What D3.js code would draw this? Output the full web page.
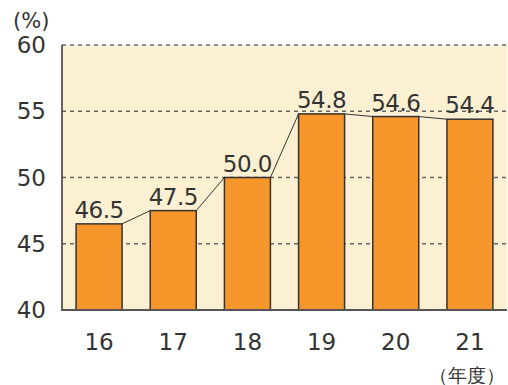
<!DOCTYPE html>
<html><head><meta charset="utf-8">
<script src="https://cdn.jsdelivr.net/npm/d3@7"></script>
<style>body{margin:0;background:#fff}svg{display:block}text{font-family:"DejaVu Sans",sans-serif;fill:#333}</style>
</head><body>
<svg id="c" width="508" height="385"></svg>
<script>
const categories = ["16","17","18","19","20","21"];
const values = [46.5, 47.5, 50.0, 54.8, 54.6, 54.4];
const yTicks = [40, 45, 50, 55, 60];

const svg = d3.select("#c");
const L = 62, R = 507, T = 45, B = 310;
const x = d3.scaleBand().domain(categories).range([L, R]).paddingInner(0.38).paddingOuter(0.19);
const y = d3.scaleLinear().domain([40, 60]).range([B, T]);

svg.append("rect").attr("x", L).attr("y", T).attr("width", R - L).attr("height", B - T).attr("fill", "#FCF0D2");

svg.append("g").selectAll("line").data(yTicks.filter(d => d > 40)).join("line")
  .attr("x1", L).attr("x2", R).attr("y1", d => y(d)).attr("y2", d => y(d))
  .attr("stroke", "#666").attr("stroke-width", 1.3).attr("stroke-dasharray", "4,4");

svg.append("g").selectAll("rect").data(values).join("rect")
  .attr("x", (d, i) => x(categories[i])).attr("width", x.bandwidth())
  .attr("y", d => y(d)).attr("height", d => B - y(d))
  .attr("fill", "#F7962A").attr("stroke", "#333").attr("stroke-width", 1.5);

svg.append("g").selectAll("line").data(values.slice(0, -1)).join("line")
  .attr("x1", (d, i) => x(categories[i]) + x.bandwidth()).attr("y1", d => y(d))
  .attr("x2", (d, i) => x(categories[i + 1])).attr("y2", (d, i) => y(values[i + 1]))
  .attr("stroke", "#333").attr("stroke-width", 1);

svg.append("g").selectAll("text").data(values).join("text")
  .attr("x", (d, i) => x(categories[i]) + x.bandwidth() / 2).attr("y", d => y(d) - 6)
  .attr("text-anchor", "middle").attr("font-size", 23).attr("letter-spacing", -0.5)
  .text(d => d.toFixed(1));

svg.append("line").attr("x1", L).attr("x2", L).attr("y1", T).attr("y2", B + 1).attr("stroke", "#333").attr("stroke-width", 1.5);
svg.append("line").attr("x1", L).attr("x2", R).attr("y1", B).attr("y2", B).attr("stroke", "#555").attr("stroke-width", 2);

svg.append("g").selectAll("text").data(yTicks).join("text")
  .attr("x", 46).attr("y", d => y(d) + 8).attr("text-anchor", "end").attr("font-size", 23)
  .text(d => d);

svg.append("g").selectAll("text").data(categories).join("text")
  .attr("x", d => x(d) + x.bandwidth() / 2).attr("y", 350).attr("text-anchor", "middle").attr("font-size", 23)
  .text(d => d);

svg.append("text").attr("x", 13).attr("y", 28).attr("font-size", 21).text("(%)");
svg.append("text").attr("x", 505).attr("y", 382).attr("text-anchor", "end").attr("font-size", 19)
  .attr("font-family", "Noto Sans CJK JP").text("（年度）");
</script>
</body></html>
